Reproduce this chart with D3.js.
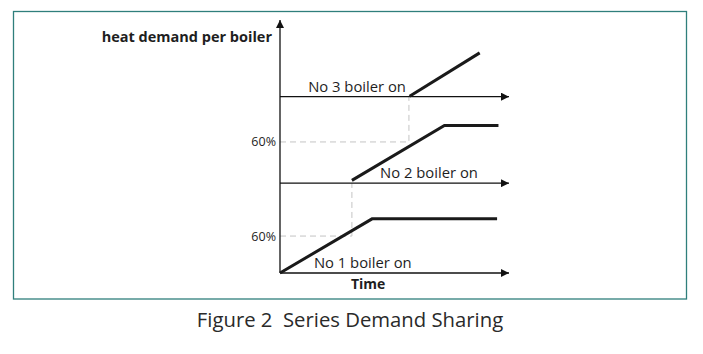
<!DOCTYPE html>
<html>
<head>
<meta charset="utf-8">
<script src="https://cdn.jsdelivr.net/npm/d3@7"></script>
<style>
  body { margin: 0; background: #fff; }
  svg text { font-family: "Open Sans", "Noto Sans", sans-serif; fill: #1e1e1e; }
</style>
</head>
<body>
<div id="chart"></div>
<script>
// boiler stages, bottom to top
const stageLabels = ["No 1 boiler on", "No 2 boiler on", "No 3 boiler on"];
// level (chart units) of each stage's time axis
const stageLevels = [0, 35.5, 69.7];
// 60% reference marks: level and the time where the next boiler starts
const refLevels = [14.6, 51.8];
const refTimes = [31.4, 56.3];
const refLabels = ["60%", "60%"];
// heat demand per boiler for each stage as [time, level]
const demandLines = [
  [[0, 0], [40.2, 21.4], [94.8, 21.4]],
  [[31.4, 36.6], [71.8, 58.3], [95.4, 58.3]],
  [[56.6, 69.9], [87.2, 87.0]]
];

let width = 703, height = 354;
let margin = {top: 20, right: 194, bottom: 81, left: 280};

let svg = d3.select("#chart").append("svg")
  .attr("width", width)
  .attr("height", height);

let x = d3.scaleLinear().domain([0, 100]).range([margin.left, width - margin.right]);
let y = d3.scaleLinear().domain([0, 100]).range([height - margin.bottom, margin.top]);

// frame
svg.append("rect")
  .attr("x", 13.5).attr("y", 11.5)
  .attr("width", 673).attr("height", 287.5)
  .attr("fill", "none")
  .attr("stroke", "#2f7f7c")
  .attr("stroke-width", 1.3);

let defs = svg.append("defs");
defs.append("marker")
  .attr("id", "arrow")
  .attr("viewBox", "0 0 10 10")
  .attr("refX", 10).attr("refY", 5)
  .attr("markerUnits", "userSpaceOnUse")
  .attr("markerWidth", 10).attr("markerHeight", 8)
  .attr("orient", "auto")
  .append("path")
  .attr("d", "M0,0 L10,5 L0,10 Z")
  .attr("fill", "#111");

// dashed 60% guides
refLevels.forEach((lv, i) => {
  svg.append("path")
    .attr("d", d3.line()([[x(0), y(lv)], [x(refTimes[i]), y(lv)], [x(refTimes[i]), y(stageLevels[i + 1])]]))
    .attr("fill", "none")
    .attr("stroke", "#c4c4c4")
    .attr("stroke-width", 1)
    .attr("stroke-dasharray", "6,4");
  svg.append("text")
    .attr("x", x(0) - 4)
    .attr("y", y(lv) + 4.5)
    .attr("text-anchor", "end")
    .style("font-size", "12.5px")
    .text(refLabels[i]);
});

// time axes per stage
stageLevels.forEach(lv => {
  svg.append("line")
    .attr("x1", x(0)).attr("x2", x(100))
    .attr("y1", y(lv)).attr("y2", y(lv))
    .attr("stroke", "#111")
    .attr("stroke-width", 1.3)
    .attr("marker-end", "url(#arrow)");
});

// vertical axis
svg.append("line")
  .attr("x1", x(0)).attr("x2", x(0))
  .attr("y1", y(0)).attr("y2", y(100))
  .attr("stroke", "#111")
  .attr("stroke-width", 1.3)
  .attr("marker-end", "url(#arrow)");

// demand lines
svg.selectAll(".demand")
  .data(demandLines)
  .enter()
  .append("path")
  .attr("class", "demand")
  .attr("d", d => d3.line().x(p => x(p[0])).y(p => y(p[1]))(d))
  .attr("fill", "none")
  .attr("stroke", "#1a1a1a")
  .attr("stroke-width", 3);

// stage labels
let labelX = [14.8, 43.7, 12.3];
svg.selectAll(".stage")
  .data(stageLabels)
  .enter()
  .append("text")
  .attr("class", "stage")
  .attr("x", (d, i) => x(labelX[i]))
  .attr("y", (d, i) => y(stageLevels[i]) - 5)
  .style("font-size", "14.8px")
  .text(d => d);

svg.append("text")
  .attr("x", x(0) - 8)
  .attr("y", 42)
  .attr("text-anchor", "end")
  .style("font-size", "14.5px")
  .style("font-weight", "bold")
  .text("heat demand per boiler");

svg.append("text")
  .attr("x", x(38.5))
  .attr("y", 289)
  .attr("text-anchor", "middle")
  .style("font-size", "14px")
  .style("font-weight", "bold")
  .text("Time");

svg.append("text")
  .attr("x", 350)
  .attr("y", 327)
  .attr("text-anchor", "middle")
  .style("font-size", "20.3px")
  .style("fill", "#2a2a2a")
  .text("Figure 2  Series Demand Sharing")
  .attr("xml:space", "preserve")
  .style("white-space", "pre");
</script>
</body>
</html>
